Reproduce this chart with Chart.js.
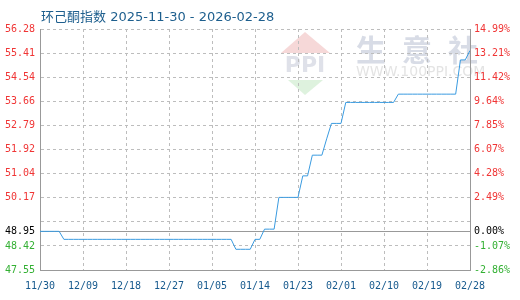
<!DOCTYPE html>
<html>
<head>
<meta charset="utf-8">
<script src="https://cdn.jsdelivr.net/npm/chart.js@4"></script>
<style>
  html, body { margin: 0; padding: 0; background: #fff; }
  #wrap { width: 520px; height: 300px; }
</style>
</head>
<body>
<div id="wrap"><canvas id="chart" width="520" height="300"></canvas></div>
<script>
const titleText = '环己酮指数 2025-11-30 - 2026-02-28';

// x ticks, one every 9 days (day 0 = 11/30)
const xTickLabels = ['11/30', '12/09', '12/18', '12/27', '01/05', '01/14', '01/23', '02/01', '02/10', '02/19', '02/28'];

// daily index values, 11/30 .. 02/28
const indexValues = [
  48.95, 48.95, 48.95, 48.95, 48.95, 48.66, 48.66, 48.66, 48.66, 48.66, // 11/30-12/09
  48.66, 48.66, 48.66, 48.66, 48.66, 48.66, 48.66, 48.66, 48.66, 48.66, // 12/10-12/19
  48.66, 48.66, 48.66, 48.66, 48.66, 48.66, 48.66, 48.66, 48.66, 48.66, // 12/20-12/29
  48.66, 48.66, 48.66, 48.66, 48.66, 48.66, 48.66, 48.66, 48.66, 48.66, // 12/30-01/08
  48.66, 48.30, 48.30, 48.30, 48.30, 48.66, 48.66, 49.03, 49.03, 49.03, // 01/09-01/18
  50.18, 50.18, 50.18, 50.18, 50.18, 50.96, 50.96, 51.71, 51.71, 51.71, // 01/19-01/28
  52.30, 52.86, 52.86, 52.86, 53.62, 53.62, 53.62, 53.62, 53.62, 53.62, // 01/29-02/07
  53.62, 53.62, 53.62, 53.62, 53.62, 53.92, 53.92, 53.92, 53.92, 53.92, // 02/08-02/17
  53.92, 53.92, 53.92, 53.92, 53.92, 53.92, 53.92, 53.92, 55.16, 55.16, // 02/18-02/27
  55.50                                                                  // 02/28
];

// base value (first day) and the y grid / tick labels
const baseValue = 48.95;
const yTickValues  = [47.55, 48.42, 48.95, 49.30, 50.17, 51.04, 51.92, 52.79, 53.66, 54.54, 55.41, 56.28];
const yLeftLabels  = ['47.55', '48.42', '48.95', '', '50.17', '51.04', '51.92', '52.79', '53.66', '54.54', '55.41', '56.28'];
const yRightLabels = ['-2.86%', '-1.07%', '0.00%', '', '2.49%', '4.28%', '6.07%', '7.85%', '9.64%', '11.42%', '13.21%', '14.99%'];

const RED = '#f03535';
const GREEN = '#33b033';
const AXIS_BLUE = '#175a8e';
const GRID = '#bdbdbd';
const BORDER = '#999999';
const CLEAR = 'rgba(0,0,0,0)';
const tickFont = { family: 'DejaVu Sans Mono', size: 10 };

function tickColor(ctx) {
    if (!ctx.tick) return '#000';
    const v = ctx.tick.value;
    if (v > baseValue) return RED;
    if (v < baseValue) return GREEN;
    return '#000';
}

function setYTicks(scale) {
    scale.ticks = yTickValues.map(v => ({ value: v }));
}

// faint watermark behind the plot
const watermark = {
    id: 'watermark',
    beforeDraw(chart) {
        const ctx = chart.ctx;
        ctx.save();
        ctx.fillStyle = 'rgba(240, 190, 190, 0.6)';
        ctx.beginPath();
        ctx.moveTo(305, 32); ctx.lineTo(330, 53); ctx.lineTo(281, 53);
        ctx.closePath(); ctx.fill();
        ctx.fillStyle = 'rgba(190, 230, 190, 0.5)';
        ctx.beginPath();
        ctx.moveTo(288, 80); ctx.lineTo(323, 80); ctx.lineTo(305, 95);
        ctx.closePath(); ctx.fill();
        ctx.fillStyle = 'rgba(215, 218, 228, 0.8)';
        ctx.font = 'bold 22px "DejaVu Sans"';
        ctx.textAlign = 'center';
        ctx.textBaseline = 'middle';
        ctx.fillText('PPI', 305, 66);
        ctx.fillStyle = 'rgba(200, 205, 220, 0.7)';
        ctx.font = 'bold 30px "Noto Sans CJK SC"';
        ['生', '意', '社'].forEach((c, i) => ctx.fillText(c, 371 + i * 46, 50));
        ctx.fillStyle = 'rgba(215, 215, 215, 0.7)';
        ctx.font = '14px "DejaVu Sans"';
        ctx.textAlign = 'left';
        ctx.fillText('WWW.100PPI.COM', 356, 72);
        ctx.restore();
    }
};

const titlePlugin = {
    id: 'titleText',
    afterDraw(chart) {
        const ctx = chart.ctx;
        ctx.save();
        ctx.fillStyle = '#1e5f8e';
        ctx.font = '13px "DejaVu Sans", "Noto Sans CJK SC"';
        ctx.textBaseline = 'alphabetic';
        ctx.textAlign = 'left';
        ctx.fillText(titleText, 41, 21);
        ctx.restore();
    }
};

new Chart(document.getElementById('chart'), {
    type: 'line',
    data: {
        datasets: [{
            data: indexValues.map((v, i) => ({ x: i, y: v })),
            borderColor: '#3a9be0',
            borderWidth: 1,
            pointRadius: 0,
            tension: 0,
            yAxisID: 'y'
        }]
    },
    options: {
        responsive: false,
        animation: false,
        devicePixelRatio: 1,
        layout: { padding: { top: 29, left: 0, right: 0, bottom: 0 } },
        plugins: {
            legend: { display: false },
            tooltip: { enabled: false }
        },
        scales: {
            x: {
                type: 'linear',
                min: 0,
                max: indexValues.length - 1,
                afterFit: (s) => { s.height = 30; },
                ticks: {
                    stepSize: 9,
                    autoSkip: false,
                    maxRotation: 0,
                    padding: 10,
                    color: AXIS_BLUE,
                    font: tickFont,
                    callback: (v) => xTickLabels[Math.round(v / 9)]
                },
                grid: {
                    drawTicks: false,
                    lineWidth: 1,
                    color: (ctx) => (ctx.tick && (ctx.tick.value === 0 || ctx.tick.value === indexValues.length - 1)) ? CLEAR : GRID
                },
                border: { display: true, color: BORDER, dash: [3, 3] }
            },
            y: {
                position: 'left',
                min: yTickValues[0],
                max: yTickValues[yTickValues.length - 1],
                afterBuildTicks: setYTicks,
                afterFit: (s) => { s.width = 40; },
                ticks: {
                    autoSkip: false,
                    padding: 5,
                    font: tickFont,
                    color: tickColor,
                    callback: (v, i) => yLeftLabels[i]
                },
                grid: {
                    drawTicks: false,
                    lineWidth: 1,
                    color: (ctx) => {
                        if (!ctx.tick) return GRID;
                        if (ctx.tick.value === baseValue) return BORDER;
                        if (ctx.tick.value === yTickValues[0]) return CLEAR;
                        return GRID;
                    }
                },
                border: {
                    display: true,
                    color: BORDER,
                    dash: (ctx) => (ctx.tick && ctx.tick.value === baseValue) ? [] : [3, 3]
                }
            },
            y2: {
                position: 'right',
                min: yTickValues[0],
                max: yTickValues[yTickValues.length - 1],
                afterBuildTicks: setYTicks,
                afterFit: (s) => { s.width = 50; },
                ticks: {
                    autoSkip: false,
                    padding: 4,
                    font: tickFont,
                    color: tickColor,
                    callback: (v, i) => yRightLabels[i]
                },
                grid: { display: false, drawTicks: false },
                border: { display: true, color: BORDER }
            }
        }
    },
    plugins: [watermark, titlePlugin]
});
</script>
</body>
</html>
